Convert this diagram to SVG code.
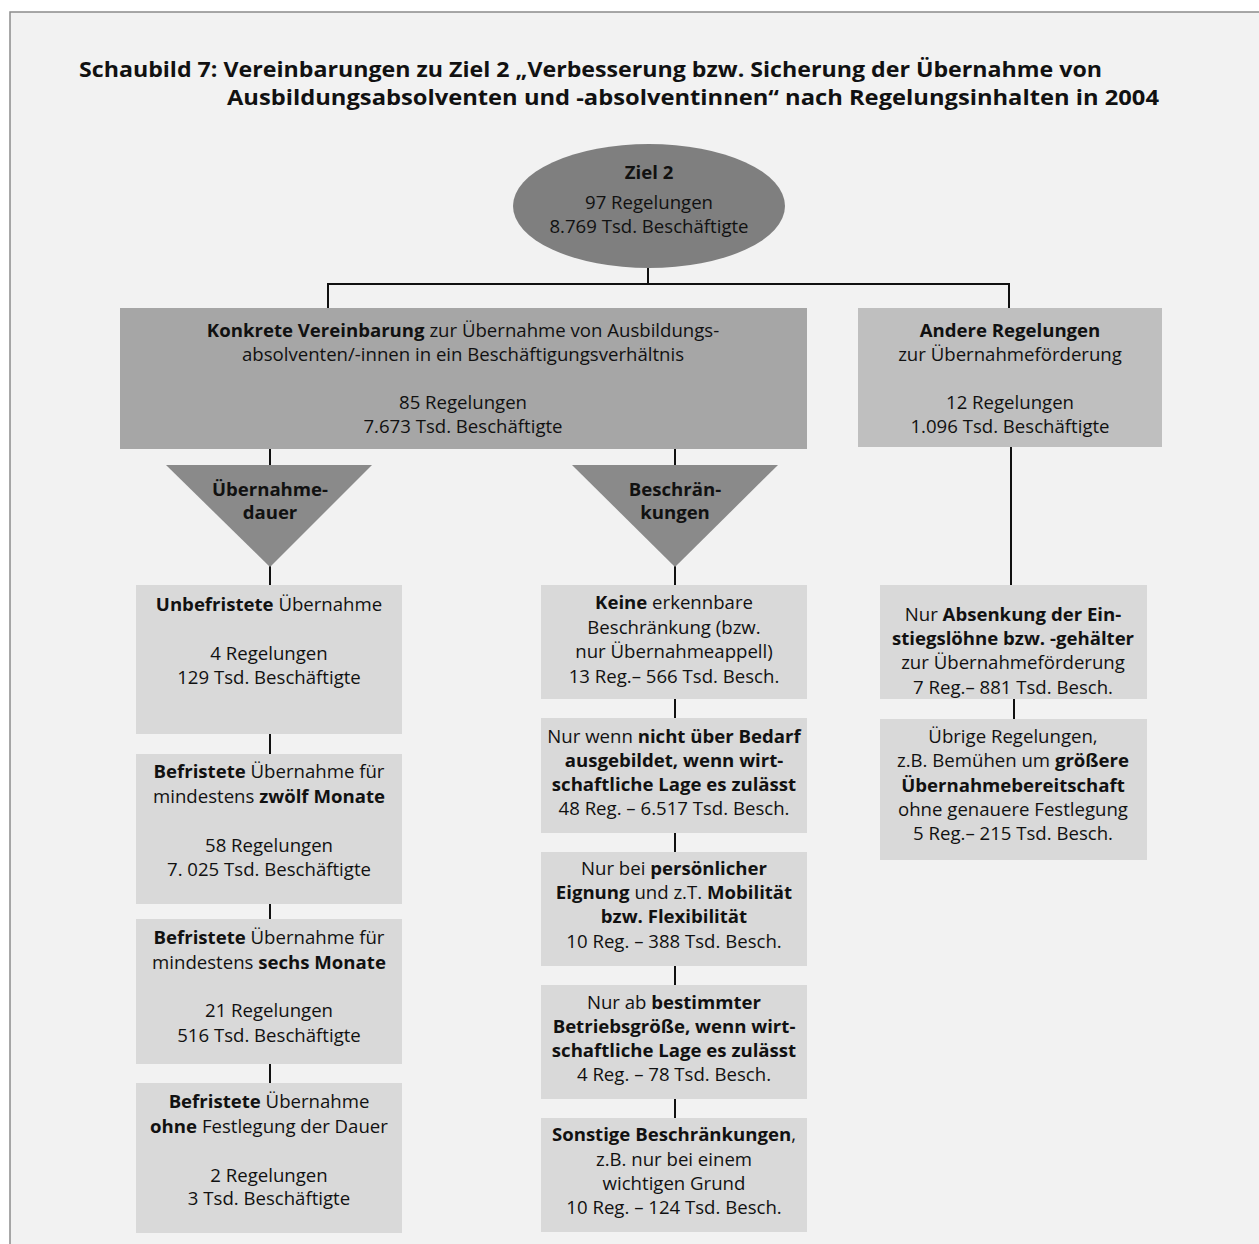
<svg xmlns="http://www.w3.org/2000/svg" width="1259" height="1244" viewBox="0 0 1259 1244">
<style>
text{font-family:"Open Sans","Noto Sans","DejaVu Sans",sans-serif;font-size:18.6px;fill:#111;text-anchor:middle}
.b{font-weight:bold}
.title{font-size:21.5px;font-weight:bold;text-anchor:start}
.box{fill:#d9d9d9}
.tri{fill:#8a8a8a}
.conn line{stroke:#111;stroke-width:2}
</style>
<rect x="0" y="0" width="1259" height="1244" fill="#ffffff"/>
<rect x="10" y="12" width="1270" height="1250" fill="#f2f2f2" stroke="#8c8c8c" stroke-width="1.5"/>
<g id="title">
<text class="title" x="79" y="77" textLength="1023" lengthAdjust="spacingAndGlyphs">Schaubild 7: Vereinbarungen zu Ziel 2 „Verbesserung bzw. Sicherung der Übernahme von</text>
<text class="title" x="227" y="105" textLength="932" lengthAdjust="spacingAndGlyphs">Ausbildungsabsolventen und -absolventinnen“ nach Regelungsinhalten in 2004</text>
</g>
<g class="conn" id="connectors">
<line x1="648" y1="268" x2="648" y2="285"/>
<line x1="327" y1="284" x2="1010" y2="284"/>
<line x1="328" y1="283" x2="328" y2="308"/>
<line x1="1009" y1="283" x2="1009" y2="308"/>
<line x1="270" y1="449" x2="270" y2="466"/>
<line x1="675" y1="449" x2="675" y2="466"/>
<line x1="270" y1="566" x2="270" y2="585"/>
<line x1="675" y1="566" x2="675" y2="585"/>
<line x1="270" y1="734" x2="270" y2="754"/>
<line x1="270" y1="904" x2="270" y2="919"/>
<line x1="270" y1="1064" x2="270" y2="1083"/>
<line x1="675" y1="699" x2="675" y2="718"/>
<line x1="675" y1="833" x2="675" y2="852"/>
<line x1="675" y1="966" x2="675" y2="985"/>
<line x1="675" y1="1099" x2="675" y2="1118"/>
<line x1="1011" y1="447" x2="1011" y2="585"/>
<line x1="1014" y1="699" x2="1014" y2="719"/>
</g>
<g id="ziel2">
<ellipse cx="649" cy="206" rx="136" ry="62" fill="#7f7f7f"/>
<text x="649" y="179" class="b">Ziel 2</text>
<text x="649" y="209">97 Regelungen</text>
<text x="649" y="233">8.769 Tsd. Beschäftigte</text>
</g>
<g id="konkret">
<rect x="120" y="308" width="687" height="141" fill="#a6a6a6"/>
<text x="463" y="337"><tspan class="b">Konkrete Vereinbarung</tspan> zur Übernahme von Ausbildungs-</text>
<text x="463" y="361">absolventen/-innen in ein Beschäftigungsverhältnis</text>
<text x="463" y="409">85 Regelungen</text>
<text x="463" y="433">7.673 Tsd. Beschäftigte</text>
</g>
<g id="andere">
<rect x="858" y="308" width="304" height="139" fill="#bfbfbf"/>
<text x="1010" y="337" class="b">Andere Regelungen</text>
<text x="1010" y="361">zur Übernahmeförderung</text>
<text x="1010" y="409">12 Regelungen</text>
<text x="1010" y="433">1.096 Tsd. Beschäftigte</text>
</g>
<g id="tri-dauer">
<polygon class="tri" points="166,465 372,465 270,567"/>
<text x="270" y="496" class="b">Übernahme-</text>
<text x="270" y="519" class="b">dauer</text>
</g>
<g id="tri-beschr">
<polygon class="tri" points="572,465 778,465 675,567"/>
<text x="675" y="496" class="b">Beschrän-</text>
<text x="675" y="519" class="b">kungen</text>
</g>
<g id="unbefristet">
<rect class="box" x="136" y="585" width="266" height="149"/>
<text x="269" y="611"><tspan class="b">Unbefristete</tspan> Übernahme</text>
<text x="269" y="660">4 Regelungen</text>
<text x="269" y="684">129 Tsd. Beschäftigte</text>
</g>
<g id="befr12">
<rect class="box" x="136" y="754" width="266" height="150"/>
<text x="269" y="778"><tspan class="b">Befristete</tspan> Übernahme für</text>
<text x="269" y="803">mindestens <tspan class="b">zwölf Monate</tspan></text>
<text x="269" y="852">58 Regelungen</text>
<text x="269" y="876">7. 025 Tsd. Beschäftigte</text>
</g>
<g id="befr6">
<rect class="box" x="136" y="919" width="266" height="145"/>
<text x="269" y="944"><tspan class="b">Befristete</tspan> Übernahme für</text>
<text x="269" y="969">mindestens <tspan class="b">sechs Monate</tspan></text>
<text x="269" y="1017">21 Regelungen</text>
<text x="269" y="1042">516 Tsd. Beschäftigte</text>
</g>
<g id="befrohne">
<rect class="box" x="136" y="1083" width="266" height="150"/>
<text x="269" y="1108"><tspan class="b">Befristete</tspan> Übernahme</text>
<text x="269" y="1133"><tspan class="b">ohne</tspan> Festlegung der Dauer</text>
<text x="269" y="1182">2 Regelungen</text>
<text x="269" y="1205">3 Tsd. Beschäftigte</text>
</g>
<g id="keine">
<rect class="box" x="541" y="585" width="266" height="114"/>
<text x="674" y="609"><tspan class="b">Keine</tspan> erkennbare</text>
<text x="674" y="634">Beschränkung (bzw.</text>
<text x="674" y="658">nur Übernahmeappell)</text>
<text x="674" y="683">13 Reg.– 566 Tsd. Besch.</text>
</g>
<g id="bedarf">
<rect class="box" x="541" y="718" width="266" height="115"/>
<text x="674" y="743">Nur wenn <tspan class="b">nicht über Bedarf</tspan></text>
<text x="674" y="767" class="b">ausgebildet, wenn wirt-</text>
<text x="674" y="791" class="b">schaftliche Lage es zulässt</text>
<text x="674" y="815">48 Reg. – 6.517 Tsd. Besch.</text>
</g>
<g id="eignung">
<rect class="box" x="541" y="852" width="266" height="114"/>
<text x="674" y="875">Nur bei <tspan class="b">persönlicher</tspan></text>
<text x="674" y="899"><tspan class="b">Eignung</tspan> und z.T. <tspan class="b">Mobilität</tspan></text>
<text x="674" y="923" class="b">bzw. Flexibilität</text>
<text x="674" y="948">10 Reg. – 388 Tsd. Besch.</text>
</g>
<g id="betriebsgroesse">
<rect class="box" x="541" y="985" width="266" height="114"/>
<text x="674" y="1009">Nur ab <tspan class="b">bestimmter</tspan></text>
<text x="674" y="1033" class="b">Betriebsgröße, wenn wirt-</text>
<text x="674" y="1057" class="b">schaftliche Lage es zulässt</text>
<text x="674" y="1081">4 Reg. – 78 Tsd. Besch.</text>
</g>
<g id="sonstige">
<rect class="box" x="541" y="1118" width="266" height="114"/>
<text x="674" y="1141"><tspan class="b">Sonstige Beschränkungen</tspan>,</text>
<text x="674" y="1166">z.B. nur bei einem</text>
<text x="674" y="1190">wichtigen Grund</text>
<text x="674" y="1214">10 Reg. – 124 Tsd. Besch.</text>
</g>
<g id="absenkung">
<rect class="box" x="880" y="585" width="267" height="114"/>
<text x="1013" y="621">Nur <tspan class="b">Absenkung der Ein-</tspan></text>
<text x="1013" y="645" class="b">stiegslöhne bzw. -gehälter</text>
<text x="1013" y="669">zur Übernahmeförderung</text>
<text x="1013" y="694">7 Reg.– 881 Tsd. Besch.</text>
</g>
<g id="uebrige">
<rect class="box" x="880" y="719" width="267" height="141"/>
<text x="1013" y="743">Übrige Regelungen,</text>
<text x="1013" y="767">z.B. Bemühen um <tspan class="b">größere</tspan></text>
<text x="1013" y="792" class="b">Übernahmebereitschaft</text>
<text x="1013" y="816">ohne genauere Festlegung</text>
<text x="1013" y="840">5 Reg.– 215 Tsd. Besch.</text>
</g>
</svg>
